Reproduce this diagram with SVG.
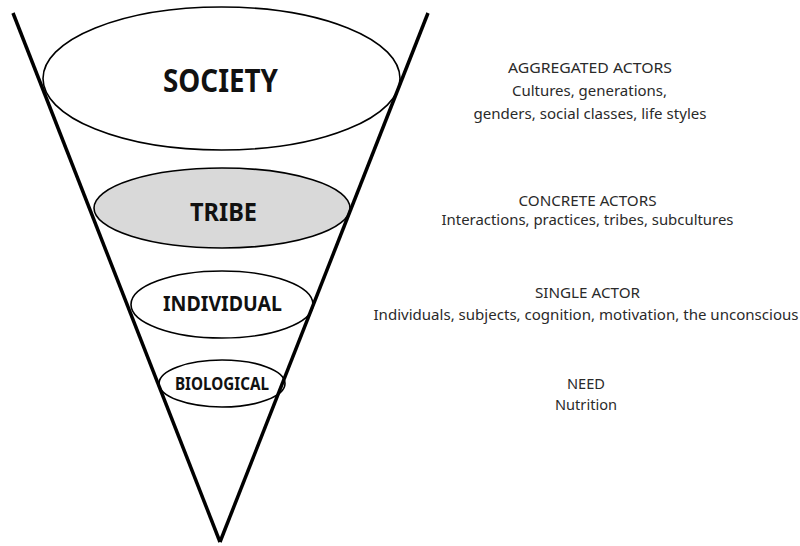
<svg xmlns="http://www.w3.org/2000/svg" width="800" height="546" viewBox="0 0 800 546">
<style>
.lvl{fill:#fff;stroke:#000;stroke-width:1.6}
.lab{font-family:"Noto Sans","Open Sans",sans-serif;font-weight:bold;fill:#111;text-anchor:middle}
.desc{font-family:"Noto Sans","Open Sans",sans-serif;font-size:15px;fill:#2a2a2a;text-anchor:middle}
.cone{stroke:#000;stroke-width:3.5;fill:none;stroke-linecap:butt}
</style>
<rect width="800" height="546" fill="#fff"/>
<g id="society">
<ellipse class="lvl" cx="221.5" cy="78.5" rx="178.5" ry="71.5"/>
<text class="lab" x="220.5" y="92" font-size="32" textLength="115" lengthAdjust="spacingAndGlyphs">SOCIETY</text>
</g>
<g id="tribe">
<ellipse class="lvl" cx="222" cy="208" rx="128" ry="40" style="fill:#d9d9d9"/>
<text class="lab" x="223.5" y="221" font-size="25" textLength="67" lengthAdjust="spacingAndGlyphs">TRIBE</text>
</g>
<g id="individual">
<ellipse class="lvl" cx="222" cy="304.5" rx="91" ry="33.5"/>
<text class="lab" x="222.5" y="311" font-size="22" textLength="119" lengthAdjust="spacingAndGlyphs">INDIVIDUAL</text>
</g>
<g id="biological">
<ellipse class="lvl" cx="222" cy="383.5" rx="63" ry="23.5"/>
<text class="lab" x="222" y="390" font-size="17" textLength="94" lengthAdjust="spacingAndGlyphs">BIOLOGICAL</text>
</g>
<g id="connectors">
<line class="cone" x1="13" y1="13" x2="220" y2="542"/>
<line class="cone" x1="428" y1="13" x2="220" y2="542"/>
</g>
<g id="desc-society">
<text class="desc" x="590" y="73" textLength="164" lengthAdjust="spacingAndGlyphs">AGGREGATED ACTORS</text>
<text class="desc" x="589.5" y="96" textLength="155" lengthAdjust="spacingAndGlyphs">Cultures, generations,</text>
<text class="desc" x="590" y="119" textLength="233" lengthAdjust="spacingAndGlyphs">genders, social classes, life styles</text>
</g>
<g id="desc-tribe">
<text class="desc" x="587.5" y="206" textLength="138" lengthAdjust="spacingAndGlyphs">CONCRETE ACTORS</text>
<text class="desc" x="587.5" y="225" textLength="292" lengthAdjust="spacingAndGlyphs">Interactions, practices, tribes, subcultures</text>
</g>
<g id="desc-individual">
<text class="desc" x="587.5" y="298" textLength="105" lengthAdjust="spacingAndGlyphs">SINGLE ACTOR</text>
<text class="desc" x="586" y="320" textLength="425" lengthAdjust="spacingAndGlyphs">Individuals, subjects, cognition, motivation, the unconscious</text>
</g>
<g id="desc-biological">
<text class="desc" x="586" y="389" textLength="38" lengthAdjust="spacingAndGlyphs">NEED</text>
<text class="desc" x="586" y="410" textLength="62" lengthAdjust="spacingAndGlyphs">Nutrition</text>
</g>
</svg>
